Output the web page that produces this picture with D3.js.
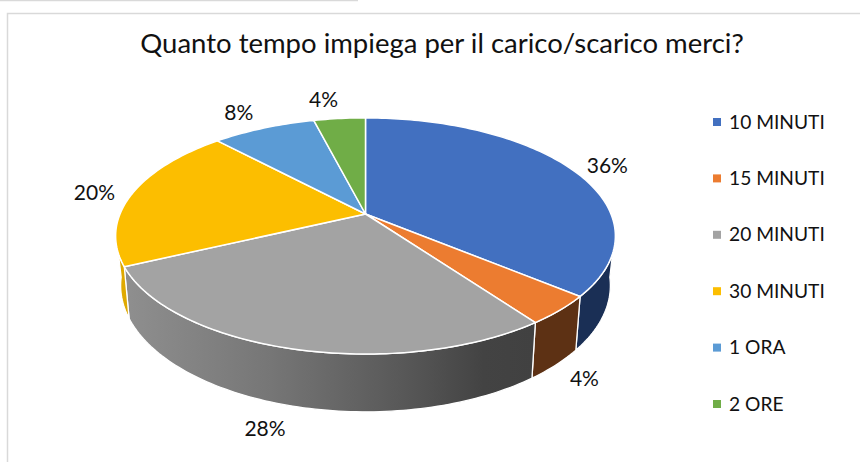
<!DOCTYPE html>
<html><head><meta charset="utf-8">
<script src="https://cdn.jsdelivr.net/npm/d3@7/dist/d3.min.js"></script>
<style>html,body{margin:0;padding:0;background:#fff}svg{display:block}text{font-family:Lato,"Open Sans",sans-serif;fill:#111}</style>
</head><body><div id="c"></div>
<script>
const title = "Quanto tempo impiega per il carico/scarico merci?";
const categories = ["10 MINUTI","15 MINUTI","20 MINUTI","30 MINUTI","1 ORA","2 ORE"];
const values = [36,4,28,20,8,4];
const colors = ["#4270c0","#ec7c30","#a3a3a3","#fcbe00","#5b9bd5","#70ad47"];
const sideColors = ["#1a2f55","#5d3114","url(#greySide)","#dfa900","#5b9bd5","#70ad47"];

const W=860,H=462;
const svg=d3.select("#c").append("svg").attr("width",W).attr("height",H);

// frame
svg.append("line").attr("x1",0).attr("x2",358).attr("y1",0.5).attr("y2",0.5).attr("stroke","#d9d9d9").attr("stroke-width",1.5);
svg.append("path").attr("d",`M7.5,${H}V13.5H${W}`).attr("fill","none").attr("stroke","#d9d9d9").attr("stroke-width",1.5);

// perspective projection of the pie disc
const cx=365.5,cy=214,Rx=245.5,Ry=114,k=0.186;
const lowerX=0.98,lowerY=1.07,lowerCy=262;
const sx=d3.scaleLinear().domain([-1,1]).range([cx-Rx,cx+Rx]);
const sy=d3.scaleLinear().domain([-1,1]).range([cy-Ry,cy+Ry]);
function topRim(t){const u=Math.sin(t),v=-Math.cos(t),w=1-k*v;return [sx(u/w),sy(v/w)];}
function lowRim(t){const p=topRim(t);return [cx+(p[0]-cx)*lowerX,lowerCy+(p[1]-cy)*lowerY];}
function arc(fn,a,b){const n=Math.max(2,Math.ceil(Math.abs(b-a)/0.02));
  return d3.range(n+1).map(i=>fn(a+(b-a)*i/n));}
const line=d3.line();

const arcs=d3.pie().sort(null).value(d=>d)(values);
const rad=d=>d*Math.PI/180;

// gradient for the shaded grey wall
const g=svg.append("defs").append("linearGradient").attr("id","greySide")
  .attr("gradientUnits","userSpaceOnUse").attr("x1",130).attr("x2",532).attr("y1",0).attr("y2",0);
[[0,"#8e8e8e"],[0.35,"#767676"],[0.7,"#565656"],[0.88,"#434343"],[1,"#414141"]]
  .forEach(s=>g.append("stop").attr("offset",s[0]).attr("stop-color",s[1]));

// walls: visible front part of the extruded rim
const topLim=[rad(109),rad(251)],botLim=[rad(97),rad(263)];
arcs.forEach((a,i)=>{
  const t0=Math.max(a.startAngle,topLim[0]),t1=Math.min(a.endAngle,topLim[1]);
  const b0=Math.max(a.startAngle,botLim[0]),b1=Math.min(a.endAngle,botLim[1]);
  if(b1<=b0) return;
  const pts=(t1>t0?arc(topRim,t0,t1):[]).concat(arc(lowRim,b1,b0));
  svg.append("path").attr("d",line(pts)+"Z").attr("fill",sideColors[i])
    .attr("stroke","#fff").attr("stroke-width",1.3).attr("stroke-linejoin","round");
});

// top faces
arcs.forEach((a,i)=>{
  const pts=[[sx(0),sy(0)]].concat(arc(topRim,a.startAngle,a.endAngle));
  svg.append("path").attr("d",line(pts)+"Z").attr("fill",colors[i])
    .attr("stroke","#fff").attr("stroke-width",1.5).attr("stroke-linejoin","round");
});

// percent labels, placed from the rim point at each slice's mid angle
const nudge=[[36,-5],[24.5,67],[-26,78.5],[-38,-2],[-25,-16.5],[-16,-20.5]];
arcs.forEach((a,i)=>{
  const p=topRim((a.startAngle+a.endAngle)/2);
  svg.append("text").attr("x",p[0]+nudge[i][0]).attr("y",p[1]+nudge[i][1])
    .attr("text-anchor","middle").attr("dominant-baseline","central")
    .attr("font-size",21).text(values[i]+"%");
});

// title
svg.append("text").attr("x",442).attr("y",53).attr("text-anchor","middle")
  .attr("font-size",27.5).text(title);

// legend
const ly=d3.scalePoint().domain(categories).range([122,404]);
const leg=svg.append("g").selectAll("g").data(categories).join("g");
leg.append("rect").attr("x",713).attr("y",d=>ly(d)-4).attr("width",8).attr("height",8)
  .attr("fill",(d,i)=>colors[i]);
leg.append("text").attr("x",729).attr("y",d=>ly(d)-1).attr("dominant-baseline","central")
  .attr("font-size",19.2).text(d=>d);
</script></body></html>
